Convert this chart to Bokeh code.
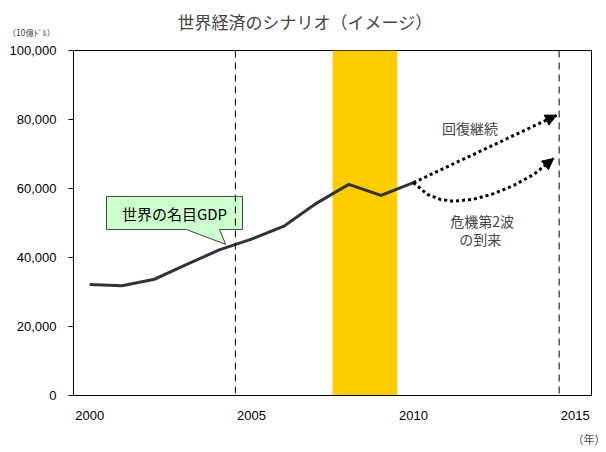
from bokeh.plotting import figure
from bokeh.models import (Range1d, FixedTicker, NumeralTickFormatter, Span,
                          BoxAnnotation, Label, Arrow, NormalHead, Title)
from bokeh.embed import file_html
from bokeh.resources import INLINE

# ---- data ----
years = [2000, 2001, 2002, 2003, 2004, 2005, 2006, 2007, 2008, 2009, 2010]
gdp = [32200, 31800, 33700, 38000, 42200, 45300, 49100, 55700, 61200, 58000, 61700]

recovery_years = [2010, 2014.42]
recovery_values = [61700, 81200]

second_wave_years = [2010.0, 2010.43, 2010.84, 2011.25, 2011.86, 2012.48, 2013.10, 2013.72, 2014.33]
second_wave_values = [61700, 58300, 56800, 56300, 56900, 58500, 60900, 64100, 68700]

x_tick_years = [2000, 2005, 2010, 2015]
y_ticks = [0, 20000, 40000, 60000, 80000, 100000]
divider_years = [2004.5, 2014.5]
crisis_band = [2007.5, 2009.5]

JP = "Noto Sans CJK JP"
NUM = "Liberation Sans"

p = figure(width=606, height=452, output_backend="svg", toolbar_location=None,
           x_range=Range1d(1999.5, 2015.5), y_range=Range1d(0, 100000),
           min_border_left=73, min_border_right=15, min_border_top=50, min_border_bottom=57)
p.background_fill_color = "white"
p.border_fill_color = "white"
p.outline_line_color = "black"
p.outline_line_width = 1
p.xgrid.visible = False
p.ygrid.visible = False

# main title (outer) and unit label (closest to the frame)
p.title.text = "世界経済のシナリオ（イメージ）"
p.title.text_font = JP
p.title.text_font_size = "17px"
p.title.text_font_style = "normal"
p.title.align = "left"
p.title.offset = 104
p.title.standoff = -44
p.add_layout(Title(text="（10億ﾄﾞﾙ）", text_font=JP, text_font_size="8.5px",
                   text_font_style="normal", align="left", offset=-66,
                   standoff=25), "above")

# axes
p.xaxis.ticker = FixedTicker(ticks=x_tick_years)
p.xaxis.major_tick_out = 0
p.xaxis.major_tick_in = 0
p.xaxis.minor_tick_out = 0
p.xaxis.minor_tick_in = 0
p.xaxis.major_label_standoff = 15
p.xaxis.major_label_text_font = NUM
p.xaxis.major_label_text_font_size = "13px"
p.xaxis.major_label_text_color = "black"
p.xaxis.axis_line_color = "black"

p.yaxis.ticker = FixedTicker(ticks=y_ticks)
p.yaxis.formatter = NumeralTickFormatter(format="0,0")
p.yaxis.major_tick_out = 5
p.yaxis.major_tick_in = 0
p.yaxis.minor_tick_out = 0
p.yaxis.minor_tick_in = 0
p.yaxis.major_tick_line_color = "black"
p.yaxis.major_label_standoff = 12
p.yaxis.major_label_text_font = NUM
p.yaxis.major_label_text_font_size = "13px"
p.yaxis.major_label_text_color = "black"
p.yaxis.axis_line_color = "black"

# year unit below the axis
p.add_layout(Title(text="（年）", text_font=JP, text_font_size="11px",
                   text_font_style="normal", align="left", offset=499,
                   standoff=12), "below")

# crisis band
p.add_layout(BoxAnnotation(left=crisis_band[0], right=crisis_band[1],
                           fill_color="#FFCC00", fill_alpha=1, line_alpha=0,
                           level="underlay"))

# dashed dividers
for yr in divider_years:
    p.add_layout(Span(location=yr, dimension="height", line_color="black",
                      line_width=1, line_dash="7 5"))

# main GDP line
p.line(years, gdp, line_color="#333333", line_width=3, line_join="miter")

# scenarios
p.line(recovery_years, recovery_values, line_color="black", line_width=3,
       line_dash="3 3", line_cap="butt")
p.line(second_wave_years, second_wave_values, line_color="black", line_width=3,
       line_dash="3 3", line_cap="butt")

p.add_layout(Arrow(end=NormalHead(size=11, fill_color="black", line_color="black"),
                   x_start=recovery_years[-2], y_start=recovery_values[-2],
                   x_end=recovery_years[-1], y_end=recovery_values[-1],
                   line_alpha=0))
p.add_layout(Arrow(end=NormalHead(size=11, fill_color="black", line_color="black"),
                   x_start=second_wave_years[-2], y_start=second_wave_values[-2],
                   x_end=second_wave_years[-1], y_end=second_wave_values[-1],
                   line_alpha=0))

# callout
bx0, bx1, by0, by1 = 2000.52, 2004.72, 48100, 57700
px0, px1, tipx, tipy = 2002.99, 2004.01, 2004.20, 43800
p.patch([bx0, bx1, bx1, px1, tipx, px0, bx0],
        [by1, by1, by0, by0, tipy, by0, by0],
        fill_color="#CCFFCC", line_color="#404040", line_width=1)
p.add_layout(Label(x=2002.62, y=52750, text="世界の名目GDP", text_font=JP,
                   text_font_size="15px", text_align="center", text_baseline="middle",
                   text_color="black"))

# scenario labels
p.add_layout(Label(x=2011.75, y=77400, text="回復継続", text_font=JP,
                   text_font_size="14px", text_align="center", text_baseline="middle"))
p.add_layout(Label(x=2012.12, y=50700, text="危機第2波", text_font=JP,
                   text_font_size="14px", text_align="center", text_baseline="middle"))
p.add_layout(Label(x=2012.06, y=45500, text="の到来", text_font=JP,
                   text_font_size="14px", text_align="center", text_baseline="middle"))

open("out.html", "w").write(file_html(p, INLINE))
